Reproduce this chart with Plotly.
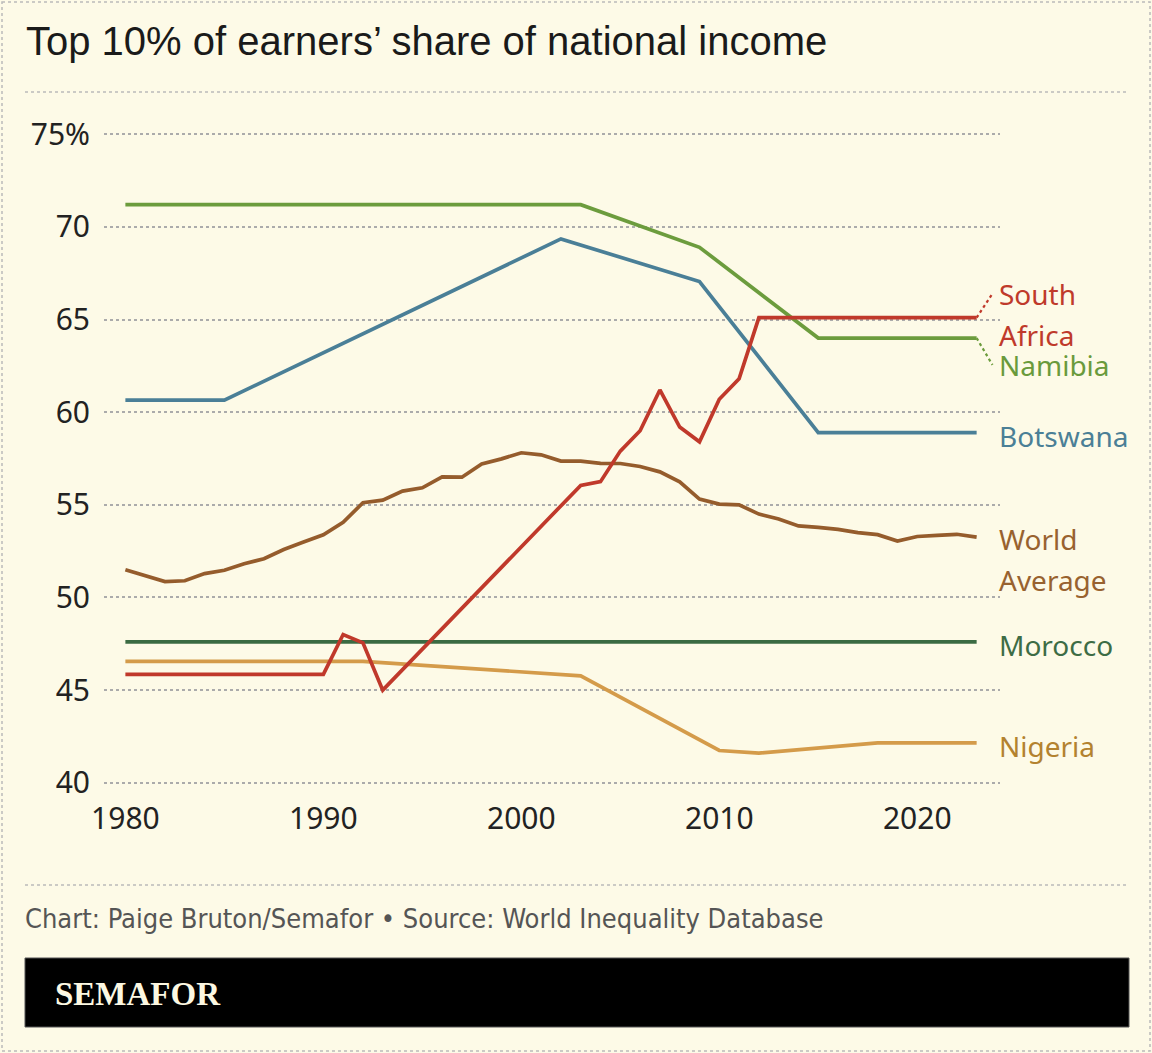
import plotly.graph_objects as go

# ---------------- data ----------------
x_tick_years = [1980, 1990, 2000, 2010, 2020]
y_tick_vals = [40, 45, 50, 55, 60, 65, 70, 75]
y_tick_text = ["40", "45", "50", "55", "60", "65", "70", "75%"]

namibia_years = [1980, 2003, 2009, 2015, 2023]
namibia_vals = [71.2, 71.2, 68.9, 64.0, 64.0]

botswana_years = [1980, 1985, 2002, 2009, 2015, 2023]
botswana_vals = [60.65, 60.65, 69.35, 67.05, 58.9, 58.9]

south_africa_years = [1980, 1990, 1991, 1992, 1993, 2003, 2004, 2005, 2006,
                      2007, 2008, 2009, 2010, 2011, 2012, 2023]
south_africa_vals = [45.85, 45.85, 48.0, 47.55, 45.0, 56.05, 56.25, 57.9, 59.0,
                     61.2, 59.2, 58.4, 60.7, 61.8, 65.1, 65.1]

world_years = [1980, 1981, 1982, 1983, 1984, 1985, 1986, 1987, 1988, 1989,
               1990, 1991, 1992, 1993, 1994, 1995, 1996, 1997, 1998, 1999,
               2000, 2001, 2002, 2003, 2004, 2005, 2006, 2007, 2008, 2009,
               2010, 2011, 2012, 2013, 2014, 2015, 2016, 2017, 2018, 2019,
               2020, 2021, 2022, 2023]
world_vals = [51.5, 51.2, 50.86, 50.9, 51.29, 51.47, 51.82, 52.09, 52.59, 52.99,
              53.38, 54.06, 55.11, 55.25, 55.74, 55.92, 56.51, 56.49, 57.21, 57.48,
              57.81, 57.7, 57.36, 57.36, 57.24, 57.23, 57.07, 56.78, 56.24, 55.31,
              55.04, 55.0, 54.5, 54.24, 53.86, 53.78, 53.67, 53.5, 53.39, 53.04,
              53.29, 53.35, 53.41, 53.26]

morocco_years = [1980, 2023]
morocco_vals = [47.6, 47.6]

nigeria_years = [1980, 1992, 2003, 2010, 2012, 2018, 2023]
nigeria_vals = [46.55, 46.55, 45.77, 41.74, 41.6, 42.15, 42.15]

# label text lines and their vertical positions (value units)
label_lines = [
    ("South", 66.4, "#BF3A2B"),
    ("Africa", 64.17, "#BF3A2B"),
    ("Namibia", 62.55, "#6A9A3C"),
    ("Botswana", 58.74, "#4B7F96"),
    ("World", 53.18, "#98622F"),
    ("Average", 50.94, "#98622F"),
    ("Morocco", 47.46, "#3D6C45"),
    ("Nigeria", 41.98, "#B3822F"),
]

# ---------------- style ----------------
W, H = 1152, 1053
BG = "#FDFAE7"
FONT = "Noto Sans, Roboto, sans-serif"


def px_x(p):
    return p / W


def px_y(p):
    return 1 - p / H


series = [
    (nigeria_years, nigeria_vals, "#D49B4A", "Nigeria"),
    (morocco_years, morocco_vals, "#3B6B43", "Morocco"),
    (world_years, world_vals, "#955C2C", "World Average"),
    (botswana_years, botswana_vals, "#4A7F97", "Botswana"),
    (namibia_years, namibia_vals, "#6C9C3D", "Namibia"),
    (south_africa_years, south_africa_vals, "#C0392B", "South Africa"),
]

fig = go.Figure()
for xs, ys, col, name in series:
    fig.add_trace(go.Scatter(
        x=xs, y=ys, mode="lines", name=name,
        line=dict(color=col, width=3.7),
        hoverinfo="skip", showlegend=False,
    ))

# leader lines for the crowded labels
fig.add_shape(type="line", xref="x", yref="y",
              x0=south_africa_years[-1], y0=south_africa_vals[-1],
              x1=south_africa_years[-1] + 0.8, y1=label_lines[0][1],
              line=dict(color="#C0392B", width=2.2, dash="dot"))
fig.add_shape(type="line", xref="x", yref="y",
              x0=namibia_years[-1], y0=namibia_vals[-1],
              x1=namibia_years[-1] + 0.8, y1=label_lines[2][1],
              line=dict(color="#6C9C3D", width=2.2, dash="dot"))

annotations = []
for txt, yv, col in label_lines:
    annotations.append(dict(
        text=txt, xref="paper", yref="y", x=px_x(997), y=yv,
        xanchor="left", yanchor="middle", showarrow=False,
        font=dict(family=FONT, size=28, color=col),
    ))

# title
annotations.append(dict(
    text="Top 10% of earners’ share of national income",
    xref="paper", yref="paper", x=px_x(24), y=px_y(41),
    xanchor="left", yanchor="middle", showarrow=False,
    font=dict(family="Liberation Sans, Arial, sans-serif", size=40, color="#1A1A1A"),
))
# footer source
annotations.append(dict(
    text="Chart: Paige Bruton/Semafor • Source: World Inequality Database",
    xref="paper", yref="paper", x=px_x(23), y=px_y(918),
    xanchor="left", yanchor="middle", showarrow=False,
    font=dict(family="Liberation Sans Narrow, DejaVu Sans Condensed, Roboto, sans-serif",
              size=27, color="#555555"),
))
# logo
annotations.append(dict(
    text="<b>SEMAFOR</b>",
    xref="paper", yref="paper", x=px_x(53), y=px_y(994),
    xanchor="left", yanchor="middle", showarrow=False,
    font=dict(family="Liberation Serif, Times New Roman, serif", size=33, color="#FCF8E2"),
))

shapes = [
    # outer dashed frame
    dict(type="rect", xref="paper", yref="paper",
         x0=px_x(2), x1=px_x(1150), y0=px_y(2), y1=px_y(1051),
         line=dict(color="#BBBBBB", width=1.5, dash="3px,3px"), layer="below"),
    # header separator
    dict(type="line", xref="paper", yref="paper",
         x0=px_x(25), x1=px_x(1129), y0=px_y(92), y1=px_y(92),
         line=dict(color="#BBBBBB", width=1.5, dash="3px,3px")),
    # footer separator
    dict(type="line", xref="paper", yref="paper",
         x0=px_x(25), x1=px_x(1129), y0=px_y(885), y1=px_y(885),
         line=dict(color="#BBBBBB", width=1.5, dash="3px,3px")),
    # black logo band
    dict(type="rect", xref="paper", yref="paper",
         x0=px_x(25), x1=px_x(1129), y0=px_y(958), y1=px_y(1027),
         fillcolor="#000000", line=dict(color="#555555", width=1), layer="below"),
]
for s in shapes:
    fig.add_shape(**s)

fig.update_layout(
    width=W, height=H,
    margin=dict(l=0, r=0, t=0, b=0),
    paper_bgcolor=BG, plot_bgcolor=BG,
    annotations=annotations,
    showlegend=False,
    xaxis=dict(
        domain=[px_x(104), px_x(1000)],
        range=[1978.92, 2024.18],
        tickvals=x_tick_years, ticktext=[str(v) for v in x_tick_years],
        showgrid=False, zeroline=False, showline=False, ticks="",
        tickfont=dict(family=FONT, size=30, color="#222222"),
        ticklabelstandoff=6, automargin=False, fixedrange=True,
    ),
    yaxis=dict(
        domain=[px_y(792), px_y(125)],
        range=[39.5, 75.5],
        tickvals=y_tick_vals, ticktext=y_tick_text,
        showgrid=True, gridcolor="#ABABAB", gridwidth=1.5, griddash="3px,3px",
        zeroline=False, showline=False, ticks="",
        tickfont=dict(family=FONT, size=30, color="#222222"),
        ticklabelstandoff=13, automargin=False, fixedrange=True,
    ),
)

fig.write_html(
    "out.html",
    config={"displayModeBar": False},
    post_script="document.body.style.margin='0';document.body.style.background='" + BG + "';",
)
